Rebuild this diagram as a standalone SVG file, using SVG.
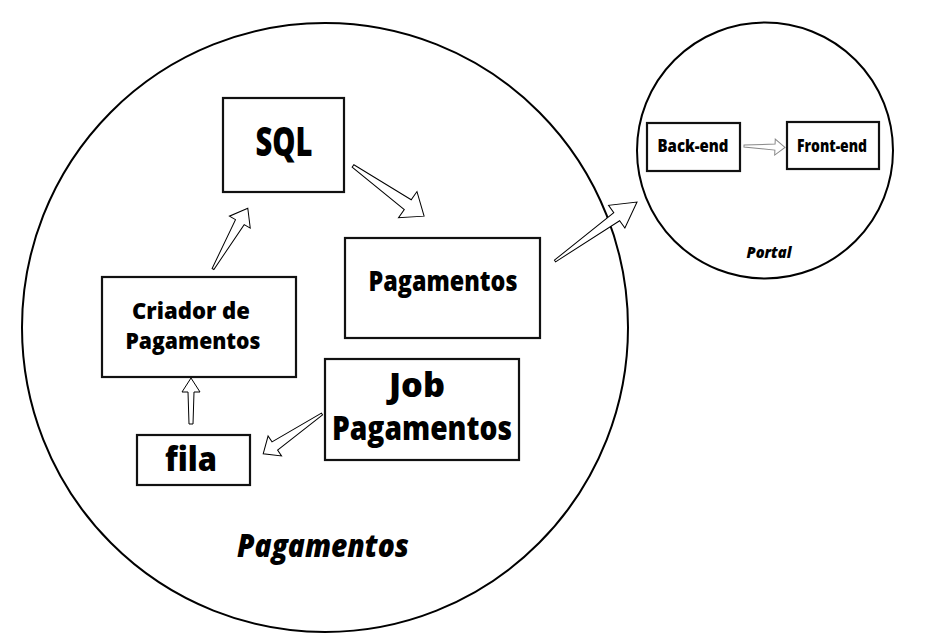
<svg xmlns="http://www.w3.org/2000/svg" width="940" height="635" viewBox="0 0 940 635">
<style>
.circ{fill:none;stroke:#000;stroke-width:2}
.box{fill:#fff;stroke:#111;stroke-width:2.2}
.t{font-family:"Open Sans","DejaVu Sans",sans-serif;font-weight:800;fill:#000;text-anchor:middle}
.it{font-style:italic}
.arr{fill:#fff;stroke:#000;stroke-width:1;stroke-linejoin:miter}
.arrg{fill:#fff;stroke:#888;stroke-width:1}
</style>
<rect width="940" height="635" fill="#fff"/>
<g id="pagamentos-domain">
<ellipse class="circ" cx="325" cy="327.5" rx="303" ry="304.5"/>
<text class="t it" x="323" y="557" font-size="31" textLength="172" lengthAdjust="spacingAndGlyphs">Pagamentos</text>
</g>
<g id="portal-domain">
<circle class="circ" cx="765" cy="150.5" r="128"/>
<text class="t it" x="769" y="258" font-size="15" textLength="45" lengthAdjust="spacingAndGlyphs">Portal</text>
</g>
<g id="connectors">
<polygon class="arr" transform="translate(213,269) rotate(-60.2)" points="0,-1 54,-5 54,-12 70,0 54,12 54,5 0,1"/>
<polygon class="arr" transform="translate(353,166) rotate(35.2)" points="0,-1.5 67,-6 67,-16 87,0 67,16 67,6 0,1.5"/>
<polygon class="arr" transform="translate(555,261) rotate(-35.7)" points="0,-1 76,-5 76,-14 101,0 76,14 76,5 0,1"/>
<polygon class="arr" transform="translate(322,414) rotate(145.9)" points="0,-1 57,-5 57,-12 71,0 57,12 57,5 0,1"/>
<polygon class="arr" transform="translate(191,424) rotate(-90)" points="0,-2 32,-3 32,-9 46,0 32,9 32,3 0,2"/>
<polygon class="arrg" transform="translate(744,146) rotate(2)" points="0,-1 31,-3 31,-8 41,0 31,8 31,3 0,1"/>
</g>
<g id="sql">
<rect class="box" x="223" y="98" width="121" height="94"/>
<text class="t" x="284" y="156" font-size="40" textLength="57" lengthAdjust="spacingAndGlyphs">SQL</text>
</g>
<g id="pagamentos">
<rect class="box" x="345" y="238" width="195" height="100"/>
<text class="t" x="443" y="291" font-size="28" textLength="149" lengthAdjust="spacingAndGlyphs">Pagamentos</text>
</g>
<g id="criador">
<rect class="box" x="102" y="277" width="194" height="100"/>
<text class="t" x="191" y="319" font-size="23" textLength="118" lengthAdjust="spacingAndGlyphs">Criador de</text>
<text class="t" x="193" y="349" font-size="23" textLength="135" lengthAdjust="spacingAndGlyphs">Pagamentos</text>
</g>
<g id="job">
<rect class="box" x="325" y="359" width="194" height="101"/>
<text class="t" x="417" y="397" font-size="33" textLength="56" lengthAdjust="spacingAndGlyphs">Job</text>
<text class="t" x="422" y="440" font-size="34" textLength="180" lengthAdjust="spacingAndGlyphs">Pagamentos</text>
</g>
<g id="fila">
<rect class="box" x="137" y="435" width="113" height="50"/>
<text class="t" x="191" y="471" font-size="33" textLength="52" lengthAdjust="spacingAndGlyphs">fila</text>
</g>
<g id="backend">
<rect class="box" x="647" y="123" width="93" height="48"/>
<text class="t" x="693" y="152" font-size="17" textLength="71" lengthAdjust="spacingAndGlyphs">Back-end</text>
</g>
<g id="frontend">
<rect class="box" x="787" y="122" width="92" height="47"/>
<text class="t" x="832" y="152" font-size="17" textLength="70" lengthAdjust="spacingAndGlyphs">Front-end</text>
</g>
</svg>
